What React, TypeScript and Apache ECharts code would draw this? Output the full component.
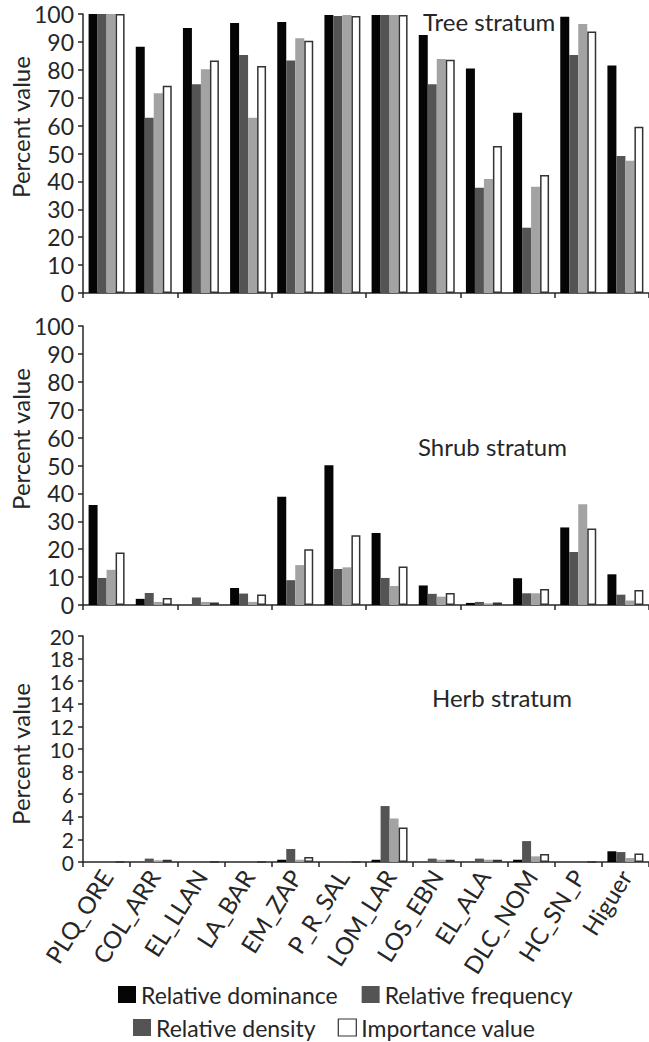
import React, { useEffect, useRef } from "react";
import * as echarts from "echarts";

const categories = ["PLQ_ORE", "COL_ARR", "EL_LLAN", "LA_BAR", "EM_ZAP", "P_R_SAL", "LOM_LAR", "LOS_EBN", "EL_ALA", "DLC_NOM", "HC_SN_P", "Higuer"];
const seriesNames = ["Relative dominance", "Relative frequency", "Relative density", "Importance value"];

const treeDominance = [100, 88.3, 95.0, 96.8, 97.1, 99.6, 99.6, 92.5, 80.5, 64.6, 99.0, 81.5];
const treeFrequency = [100, 62.8, 74.8, 85.3, 83.3, 99.3, 99.6, 74.8, 37.7, 23.4, 85.3, 49.1];
const treeDensity = [100, 71.6, 80.2, 62.8, 91.3, 99.6, 99.6, 83.9, 40.9, 38.1, 96.4, 47.4];
const treeImportance = [100, 74.3, 83.3, 81.4, 90.4, 99.3, 99.6, 83.6, 52.7, 42.3, 93.7, 59.6];

const shrubDominance = [35.8, 2.2, 0, 6.1, 38.8, 50.1, 25.8, 7.0, 0.75, 9.6, 27.8, 11.0];
const shrubFrequency = [9.7, 4.3, 2.7, 4.1, 8.9, 12.9, 9.7, 4.0, 1.1, 4.2, 19.0, 3.7];
const shrubDensity = [12.6, 1.1, 1.1, 1.1, 14.3, 13.5, 6.8, 3.0, 0.6, 4.2, 36.1, 1.6];
const shrubImportance = [18.8, 2.5, 0.9, 3.8, 20.0, 25.0, 13.8, 4.3, 0.9, 5.7, 27.4, 5.4];

const herbDominance = [0, 0, 0, 0, 0.2, 0, 0.2, 0, 0, 0.2, 0, 0.95];
const herbFrequency = [0, 0.3, 0, 0, 1.15, 0, 4.95, 0.3, 0.3, 1.85, 0, 0.88];
const herbDensity = [0, 0.15, 0, 0, 0.2, 0, 3.85, 0.2, 0.2, 0.5, 0, 0.35];
const herbImportance = [0, 0.2, 0, 0, 0.45, 0, 3.05, 0.2, 0.2, 0.7, 0, 0.75];

const panelTitles = ["Tree stratum", "Shrub stratum", "Herb stratum"];
const yMax = [100, 100, 20];
const yInterval = [10, 10, 2];
const yLabelSize = [23, 23, 21];

const FONT = "Lato, 'Open Sans', sans-serif";
const TEXT = "#262626";
const AXIS = "#262626";

export default function App() {
  const ref = useRef<HTMLDivElement>(null);
  useEffect(() => {
    document.body.style.margin = "0";
    if (!ref.current) return;
    const chart = echarts.init(ref.current, undefined, { renderer: "svg" });

    const panels = [
      [treeDominance, treeFrequency, treeDensity, treeImportance],
      [shrubDominance, shrubFrequency, shrubDensity, shrubImportance],
      [herbDominance, herbFrequency, herbDensity, herbImportance],
    ];
    const grids = [
      { left: 83, top: 14, width: 566, height: 279 },
      { left: 83, top: 326, width: 566, height: 279 },
      { left: 83, top: 636, width: 566, height: 226 },
    ];
    const styles = [
      { color: "#050505" },
      { color: "#545454" },
      { color: "#a3a3a3" },
      { color: "#ffffff", borderColor: "#333333", borderWidth: 1.5 },
    ];

    const series: any[] = [];
    panels.forEach((p, gi) => {
      p.forEach((vals, si) => {
        series.push({
          type: "bar",
          name: seriesNames[si],
          xAxisIndex: gi,
          yAxisIndex: gi,
          data: vals,
          barGap: "0%",
          barCategoryGap: "23.7%",
          itemStyle: styles[si],
        });
      });
    });

    const option: any = {
      animation: false,
      textStyle: { fontFamily: FONT, color: TEXT },
      grid: grids,
      xAxis: grids.map((_, gi) => ({
        type: "category",
        gridIndex: gi,
        data: categories,
        axisLine: { show: true, lineStyle: { color: AXIS, width: 1.5 } },
        axisTick: { show: true, length: 5, lineStyle: { color: AXIS, width: 1.5 } },
        axisLabel: gi === 2
          ? { show: true, rotate: 58, fontSize: 24, fontFamily: FONT, color: TEXT, margin: 10, interval: 0 }
          : { show: false },
      })),
      yAxis: grids.map((_, gi) => ({
        type: "value",
        gridIndex: gi,
        min: 0,
        max: yMax[gi],
        interval: yInterval[gi],
        splitLine: { show: false },
        axisLine: { show: true, lineStyle: { color: AXIS, width: 1.5 } },
        axisTick: { show: true, length: 5, lineStyle: { color: AXIS, width: 1.5 } },
        axisLabel: {
          fontSize: yLabelSize[gi],
          fontFamily: FONT,
          color: TEXT,
          margin: 9,
          showMinLabel: true,
          showMaxLabel: true,
          hideOverlap: false,
        },
      })),
      legend: [
        {
          data: [seriesNames[0], seriesNames[1]],
          left: 118,
          top: 983,
          padding: 0,
          itemWidth: 18,
          itemHeight: 17,
          itemGap: 24,
          icon: "rect",
          textStyle: { fontSize: 23, fontFamily: FONT, color: TEXT },
        },
        {
          data: [
            { name: seriesNames[2], itemStyle: { color: "#545454" } },
            { name: seriesNames[3], itemStyle: { color: "#ffffff", borderColor: "#333333", borderWidth: 1.2 } },
          ],
          left: 133,
          top: 1016,
          padding: 0,
          itemWidth: 18,
          itemHeight: 17,
          itemGap: 22,
          icon: "rect",
          textStyle: { fontSize: 23, fontFamily: FONT, color: TEXT },
        },
      ],
      graphic: [
        { type: "text", x: 423, y: 21, style: { text: panelTitles[0], font: `24px ${FONT}`, fill: TEXT, textVerticalAlign: "middle" } },
        { type: "text", x: 418, y: 446, style: { text: panelTitles[1], font: `24px ${FONT}`, fill: TEXT, textVerticalAlign: "middle" } },
        { type: "text", x: 432, y: 697, style: { text: panelTitles[2], font: `24px ${FONT}`, fill: TEXT, textVerticalAlign: "middle" } },
        ...[127, 439, 754].map((cy) => ({
          type: "text",
          x: 20,
          y: cy,
          rotation: Math.PI / 2,
          style: { text: "Percent value", font: `24px ${FONT}`, fill: TEXT, textAlign: "center", textVerticalAlign: "middle" },
        })),
      ],
      series,
    };
    chart.setOption(option);
    return () => chart.dispose();
  }, []);
  return <div ref={ref} style={{ width: 649, height: 1042 }} />;
}
